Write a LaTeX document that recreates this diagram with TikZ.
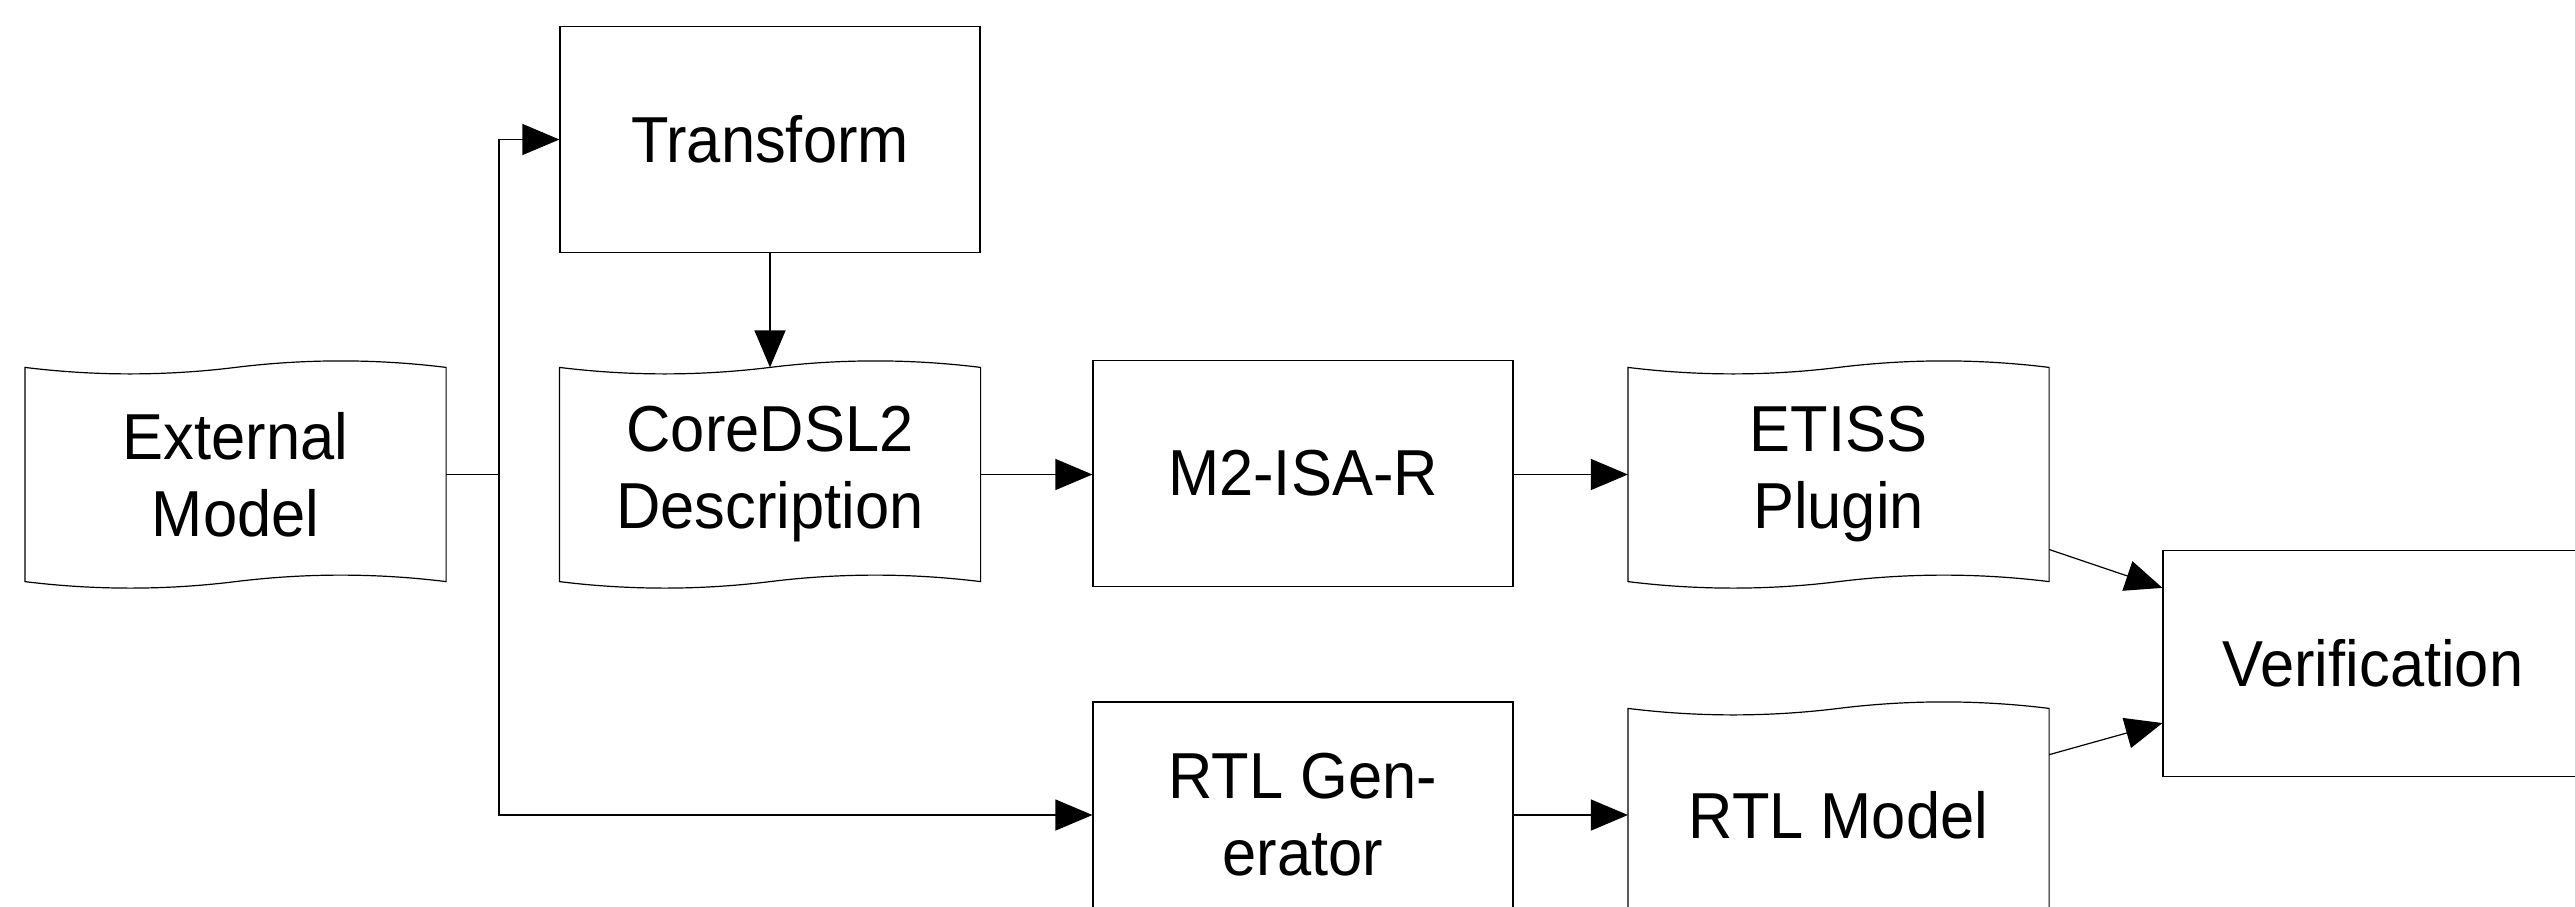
\documentclass[tikz,border=0pt]{standalone}
\usepackage{fontspec}
\setmainfont[FakeStretch=0.945]{Liberation Sans}
\usetikzlibrary{arrows.meta,calc}
\tikzset{
  box/.style={rectangle, draw, line width=0.6pt, minimum width=210pt, minimum height=113pt,
    inner sep=0pt, align=center, font=\fontsize{32.5}{38.5}\selectfont},
  tapebox/.style={box, draw=none, minimum height=106.5pt},
  conn/.style={line width=0.6pt},
  arr/.style={conn, -{Triangle[length=18.5pt,width=15.5pt]}},
  tapeline/.style={line width=0.6pt},
}
\newcommand\tapeshape[1]{%
  \draw[tapeline] (#1.north west)
   .. controls ($(#1.north west)!1/6!(#1.north east)+(0,-4.33pt)$) and ($(#1.north west)!1/3!(#1.north east)+(0,-4.33pt)$) .. (#1.north)
   .. controls ($(#1.north west)!2/3!(#1.north east)+(0,4.33pt)$) and ($(#1.north west)!5/6!(#1.north east)+(0,4.33pt)$) .. (#1.north east)
   -- (#1.south east)
   .. controls ($(#1.south west)!5/6!(#1.south east)+(0,4.33pt)$) and ($(#1.south west)!2/3!(#1.south east)+(0,4.33pt)$) .. (#1.south)
   .. controls ($(#1.south west)!1/3!(#1.south east)+(0,-4.33pt)$) and ($(#1.south west)!1/6!(#1.south east)+(0,-4.33pt)$) .. (#1.south west)
   -- cycle;}
\begin{document}
\begin{tikzpicture}[x=0.5pt, y=-0.5pt]
  \useasboundingbox[fill=white] (0,0) rectangle (2575,906);
  % nodes
  \node[tapebox] (ext) at (235.5,474.5) {External\\Model};
  \node[box] (transform) at (770,139.5) {Transform};
  \node[tapebox] (core) at (770,474.5) {CoreDSL2\\Description};
  \node[box] (m2) at (1303,473.5) {M2-ISA-R};
  \node[tapebox] (etiss) at (1838.5,474.5) {ETISS\\Plugin};
  \node[box] (verif) at (2373,663.5) {Verification};
  \node[box] (rtlgen) at (1303,815) {RTL Gen-\\erator};
  \node[tapebox] (rtlmodel) at (1838.5,815.5) {RTL Model};
  \tapeshape{ext}
  \tapeshape{core}
  \tapeshape{etiss}
  \tapeshape{rtlmodel}
  % connectors
  \coordinate (jn) at (499,474.5);
  \draw[conn] (ext.east) -- (jn);
  \draw[arr] (jn) |- (transform.west);
  \draw[arr] (jn) |- (rtlgen.west);
  \draw[arr] (transform.south) -- (core.north);
  \draw[arr] (core.east) -- (m2.west |- core.east);
  \draw[arr] (m2.east |- etiss.west) -- (etiss.west);
  \draw[arr] (rtlgen.east) -- (rtlmodel.west |- rtlgen.east);
  \coordinate (e1) at ($(etiss.north east)!0.85!(etiss.south east)$);
  \coordinate (v1) at ($(verif.north west)!0.167!(verif.south west)$);
  \coordinate (r1) at ($(rtlmodel.north east)!0.216!(rtlmodel.south east)$);
  \coordinate (v2) at ($(verif.north west)!0.762!(verif.south west)$);
  \draw[arr] (e1) -- (v1);
  \draw[arr] (r1) -- (v2);
\end{tikzpicture}
\end{document}
